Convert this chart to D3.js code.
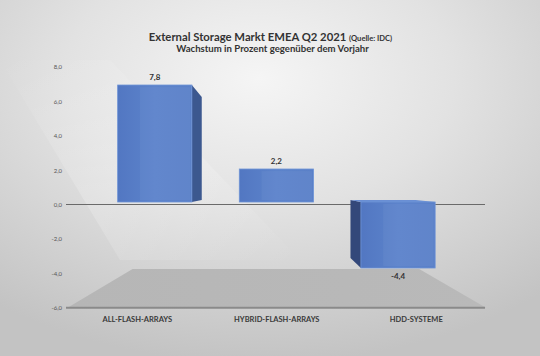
<!DOCTYPE html>
<html>
<head>
<meta charset="utf-8">
<script src="https://cdn.jsdelivr.net/npm/d3@7"></script>
<style>
html,body{margin:0;padding:0;background:#e6e6e6;}
svg{display:block;}
text{font-family:Lato,"Open Sans",sans-serif;}
</style>
</head>
<body>
<svg id="chart" width="540" height="356"></svg>
<script>
const categories = ["ALL-FLASH-ARRAYS", "HYBRID-FLASH-ARRAYS", "HDD-SYSTEME"];
const values = [7.8, 2.2, -4.4];
const tickValues = [-6, -4, -2, 0, 2, 4, 6, 8];
const titleMain = "External Storage Markt EMEA Q2 2021";
const titleSource = "(Quelle: IDC)";
const subtitle = "Wachstum in Prozent gegenüber dem Vorjahr";

const W = 540, H = 356;
const svg = d3.select("#chart");
const defs = svg.append("defs");

// background
const bg = defs.append("radialGradient").attr("id", "bg")
  .attr("cx", "48%").attr("cy", "22%").attr("r", "80%");
bg.append("stop").attr("offset", "0%").attr("stop-color", "#f5f5f5");
bg.append("stop").attr("offset", "45%").attr("stop-color", "#e2e2e2");
bg.append("stop").attr("offset", "100%").attr("stop-color", "#c3c3c3");
svg.append("rect").attr("width", W).attr("height", H).attr("fill", "url(#bg)");

const beam = defs.append("linearGradient").attr("id", "beam")
  .attr("x1", "0%").attr("y1", "0%").attr("x2", "100%").attr("y2", "100%");
beam.append("stop").attr("offset", "0%").attr("stop-color", "#fff").attr("stop-opacity", 0.0);
beam.append("stop").attr("offset", "50%").attr("stop-color", "#fff").attr("stop-opacity", 0.35);
beam.append("stop").attr("offset", "100%").attr("stop-color", "#fff").attr("stop-opacity", 0.0);
svg.append("path").attr("d", "M0,60 L110,60 L300,260 L120,260 Z").attr("fill", "url(#beam)").attr("opacity", 0.6);

// scales (axis plane)
const y = d3.scaleLinear().domain([-6, 8]).range([307.7, 66.9]);
const x = d3.scaleBand().domain(categories).range([67.5, 486])
  .paddingInner(0.39).paddingOuter(0.195);

// perspective
const V = [274, 185];
const kFront = 0.872, kBack = 0.767, kFloor = 0.685;
const P = (px, py, k) => [V[0] + k * (px - V[0]), V[1] + k * (py - V[1])];
const poly = pts => "M" + pts.map(p => p.join(",")).join("L") + "Z";

// floor
const fl = defs.append("linearGradient").attr("id", "floor")
  .attr("x1", "0%").attr("y1", "0%").attr("x2", "100%").attr("y2", "0%");
fl.append("stop").attr("offset", "0%").attr("stop-color", "#b6b6b6");
fl.append("stop").attr("offset", "100%").attr("stop-color", "#b9b9b9");
const xr = x.range();
const yMin = y(-6);
svg.append("path")
  .attr("d", poly([[xr[0], yMin], P(xr[0], yMin, kFloor), P(xr[1], yMin, kFloor), [xr[1], yMin]]))
  .attr("fill", "url(#floor)");

// lines at 0 and -6
svg.append("line").attr("x1", xr[0] - 1.5).attr("x2", xr[1] - 1).attr("y1", y(-6)).attr("y2", y(-6))
  .attr("stroke", "#8a8a8a").attr("stroke-width", 2);
svg.append("line").attr("x1", xr[0] - 1.5).attr("x2", xr[1] - 1).attr("y1", y(0)).attr("y2", y(0))
  .attr("stroke", "#6a6a6a").attr("stroke-width", 1);

// axis
const axis = d3.axisLeft(y).tickValues(tickValues).tickSize(0).tickPadding(4)
  .tickFormat(d => d.toFixed(1).replace(".", ","));
const gA = svg.append("g").attr("transform", `translate(${xr[0] - 1.5},0)`).call(axis);
gA.select(".domain").remove();
gA.selectAll("text").attr("font-size", 6).attr("fill", "#555").attr("font-family", "Lato, sans-serif");

// bars
const fg = defs.append("linearGradient").attr("id", "front")
  .attr("x1", "0%").attr("y1", "0%").attr("x2", "100%").attr("y2", "0%");
fg.append("stop").attr("offset", "0%").attr("stop-color", "#5277c2");
fg.append("stop").attr("offset", "50%").attr("stop-color", "#5c83cb");
fg.append("stop").attr("offset", "100%").attr("stop-color", "#5a80c8");

const bw = x.bandwidth();
values.forEach((v, i) => {
  const c = categories[i];
  const x0 = x(c), x1 = x(c) + bw;
  const yt = y(Math.max(v, 0)), yb = y(Math.min(v, 0));
  const cx = x0 + bw / 2;
  const g = svg.append("g");
  // side face
  if (cx < V[0] - 10) {
    g.append("path").attr("d", poly([P(x1, yt, kFront), P(x1, yt, kBack), P(x1, yb, kBack), P(x1, yb, kFront)]))
      .attr("fill", "#3c588f");
  } else if (cx > V[0] + 10) {
    g.append("path").attr("d", poly([P(x0, yt, kFront), P(x0, yt, kBack), P(x0, yb, kBack), P(x0, yb, kFront)]))
      .attr("fill", "#33487a");
  }
  // top face if visible
  const ftop = P(x0, yt, kFront), btop = P(x0, yt, kBack);
  if (btop[1] < ftop[1]) {
    g.append("path").attr("d", poly([P(x0, yt, kFront), P(x0, yt, kBack), P(x1, yt, kBack), P(x1, yt, kFront)]))
      .attr("fill", "#6a8fd4");
  }
  // front face
  const a = P(x0, yt, kFront), b = P(x1, yb, kFront);
  g.append("rect").attr("x", a[0]).attr("y", a[1]).attr("width", b[0] - a[0]).attr("height", b[1] - a[1])
    .attr("fill", "url(#front)").attr("stroke", "#6d93d6").attr("stroke-width", 0.8);
  g.append("rect").attr("x", a[0] + (b[0] - a[0]) * 0.3).attr("y", a[1] + 2)
    .attr("width", (b[0] - a[0]) * 0.68).attr("height", Math.max(0, b[1] - a[1] - 4))
    .attr("fill", "#ffffff").attr("opacity", 0.04);
  // value label
  const lx = (a[0] + b[0]) / 2;
  const ly = v >= 0 ? a[1] - 5 : b[1] + 11;
  svg.append("text").attr("x", lx).attr("y", ly).attr("text-anchor", "middle")
    .attr("font-size", 8).attr("font-weight", "bold").attr("fill", "#333")
    .text(v.toFixed(1).replace(".", ","));
});

// category labels
svg.append("g").selectAll("text").data(categories).join("text")
  .attr("x", d => x(d) + bw / 2).attr("y", 321.5)
  .attr("text-anchor", "middle").attr("font-size", 7.5).attr("font-weight", "bold").attr("fill", "#3a3a3a")
  .text(d => d);

// titles
const t = svg.append("text").attr("x", 270.5).attr("y", 40.7).attr("text-anchor", "middle")
  .attr("font-weight", "bold").attr("fill", "#333");
t.append("tspan").attr("font-size", 11.3).text(titleMain + " ");
t.append("tspan").attr("font-size", 7.6).text(titleSource);
svg.append("text").attr("x", 272.5).attr("y", 51.7).attr("text-anchor", "middle")
  .attr("font-weight", "bold").attr("font-size", 9.6).attr("fill", "#333").text(subtitle);
</script>
</body>
</html>
